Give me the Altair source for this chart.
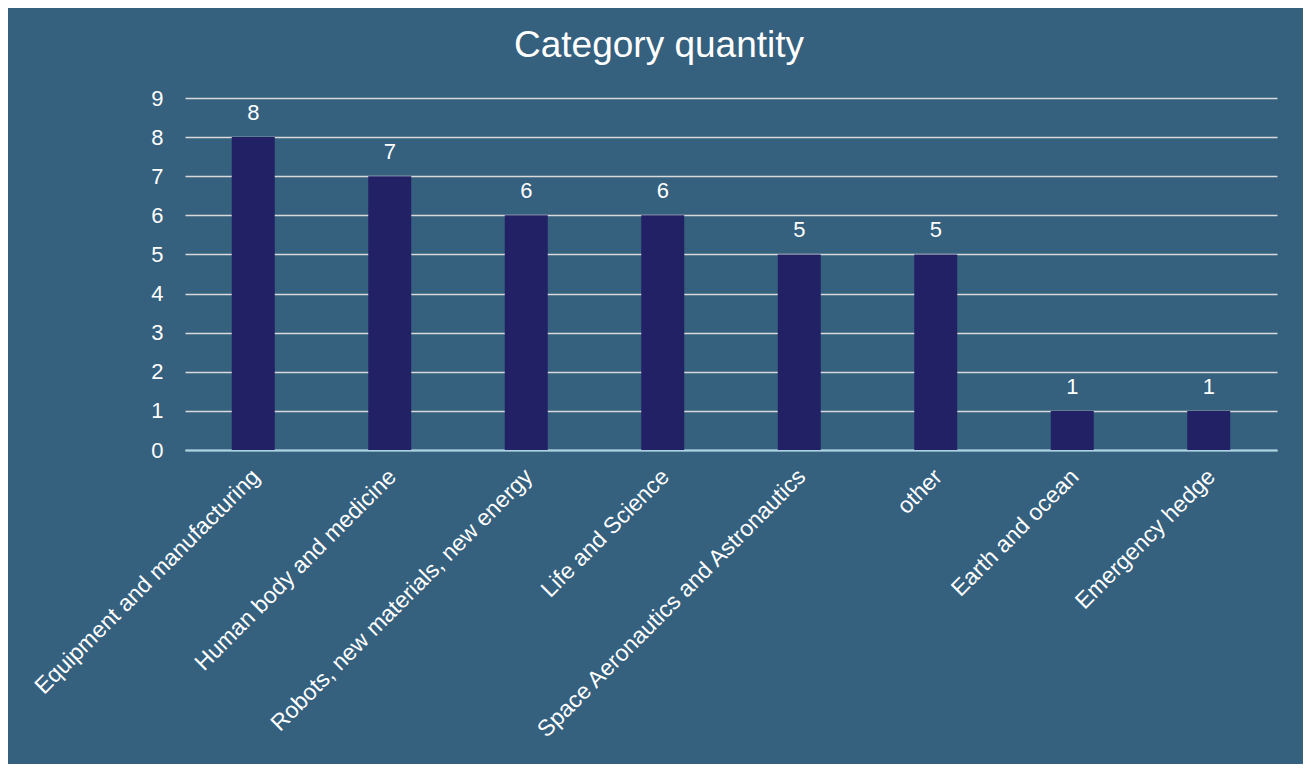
import altair as alt
import pandas as pd

categories = [
    "Equipment and manufacturing",
    "Human body and medicine",
    "Robots, new materials, new energy",
    "Life and Science",
    "Space Aeronautics and Astronautics",
    "other",
    "Earth and ocean",
    "Emergency hedge",
]
counts = [8, 7, 6, 6, 5, 5, 1, 1]

df = pd.DataFrame({"category": categories, "count": counts})

FONT = "Liberation Sans"

x_enc = alt.X(
    "category:N",
    sort=categories,
    title=None,
    axis=alt.Axis(
        labelAngle=-45,
        labelAlign="right",
        labelBaseline="top",
        labelFontSize=23,
        labelColor="white",
        labelFont=FONT,
        labelPadding=15,
        labelOffset=-5,
        ticks=False,
        domain=True,
        domainColor="#a9d3e3",
        domainWidth=2,
        labelLimit=0,
        labelOverlap=False,
        grid=False,
    ),
    scale=alt.Scale(paddingInner=0.68, paddingOuter=0.34),
)

y_enc = alt.Y(
    "count:Q",
    title=None,
    scale=alt.Scale(domain=[0, 9], nice=False),
    axis=alt.Axis(
        values=list(range(10)),
        labelFontSize=22,
        labelColor="white",
        labelFont=FONT,
        labelPadding=22,
        labelOverlap=False,
        ticks=False,
        domain=False,
        grid=True,
        gridColor="#d9d9d9",
        gridWidth=1.5,
    ),
)

base = alt.Chart(df).encode(x=x_enc, y=y_enc)
bars = base.mark_bar(color="#232166", size=43)
labels = base.mark_text(
    color="white", fontSize=22, font=FONT, baseline="bottom", dy=-12
).encode(text="count:Q")

chart = (
    alt.layer(bars, labels)
    .properties(
        width=1092,
        height=352,
        background="#35607e",
        padding={"left": 177, "top": 90, "right": 26, "bottom": 314},
        autosize=alt.AutoSizeParams(type="none"),
        title=alt.TitleParams(
            "Category quantity",
            fontSize=37,
            font=FONT,
            fontWeight="normal",
            color="white",
            anchor="middle",
            dx=-72,
            offset=22,
        ),
    )
    .configure_view(stroke=None)
)

chart.save("out.html", embed_options={"renderer": "svg", "actions": False})
